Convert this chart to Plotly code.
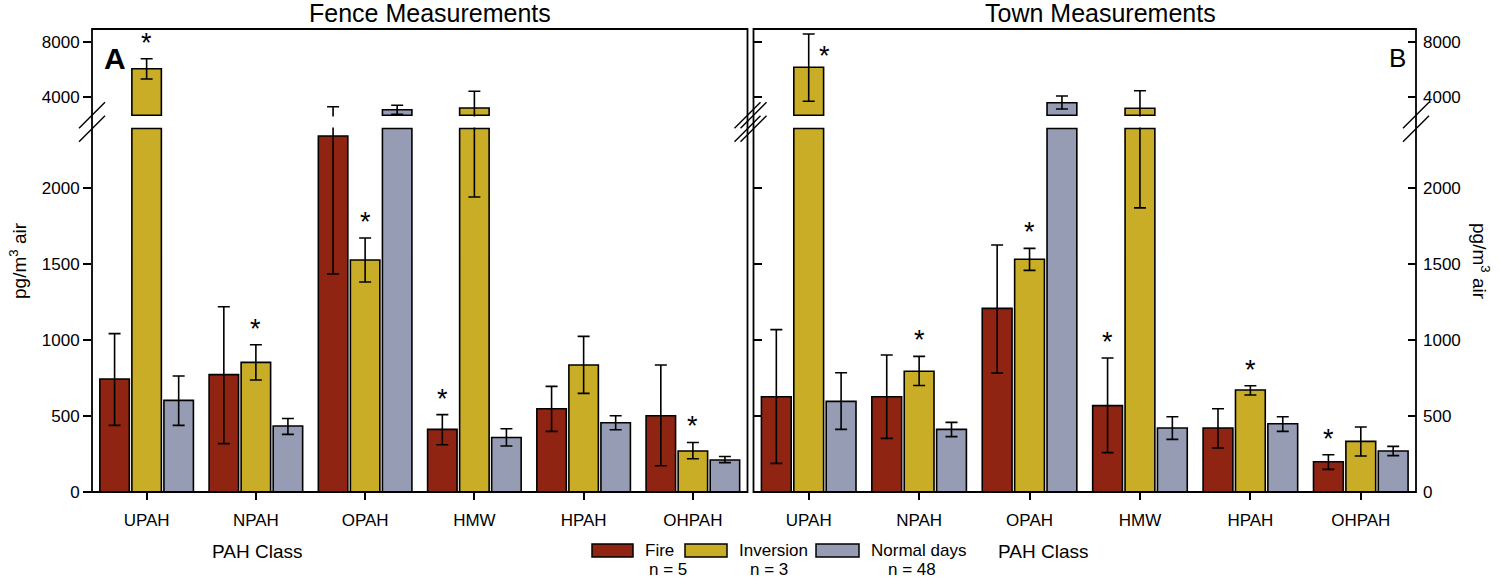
import plotly.graph_objects as go

# ---------------- data ----------------
categories = ["UPAH", "NPAH", "OPAH", "HMW", "HPAH", "OHPAH"]
series_names = ["Fire", "Inversion", "Normal days"]
series_counts = ["n = 5", "n = 3", "n = 48"]
series_colors = ["#8f2413", "#c9ad27", "#959cb4"]

# Fence measurements (pg/m3 air), error bars (+ / -)
fence_fire = [743, 772, 2342, 412, 548, 502]
fence_fire_ep = [299, 447, 974, 97, 147, 334]
fence_fire_em = [305, 454, 908, 101, 149, 329]
fence_inv = [6080, 853, 1526, 3222, 836, 270]
fence_inv_ep = [727, 116, 145, 1214, 188, 56]
fence_inv_em = [750, 116, 144, 1281, 187, 51]
fence_norm = [603, 434, 3098, 359, 456, 211]
fence_norm_ep = [160, 50, 320, 57, 46, 23]
fence_norm_em = [165, 55, 335, 56, 46, 18]

# Town measurements
town_fire = [627, 627, 1208, 568, 421, 199]
town_fire_ep = [441, 274, 417, 314, 127, 46]
town_fire_em = [439, 274, 425, 309, 132, 50]
town_inv = [6182, 794, 1531, 3200, 671, 333]
town_inv_ep = [2422, 98, 72, 1280, 28, 95]
town_inv_em = [2473, 93, 73, 1331, 33, 96]
town_norm = [596, 412, 3607, 421, 449, 270]
town_norm_ep = [189, 46, 487, 74, 46, 30]
town_norm_em = [184, 48, 458, 75, 50, 31]

# significance markers: (category, series index)
fence_stars = [("UPAH", 1), ("NPAH", 1), ("OPAH", 1), ("HMW", 0), ("OHPAH", 1)]
town_stars = [("UPAH", 1), ("NPAH", 1), ("OPAH", 1), ("HMW", 0), ("HPAH", 1), ("OHPAH", 0)]

low_ticks = [0, 500, 1000, 1500, 2000]
up_ticks = [4000, 8000]

# ---------------- geometry ----------------
W, H = 1500, 579
ML, MR, MT, MB = 92, 84, 29, 87
PW, PH = W - ML - MR, H - MT - MB
FONT = "Liberation Sans, Arial, sans-serif"


def fx(px):
    return (px - ML) / PW


def fy(py):
    return (H - MB - py) / PH


LOW_MAX, LOW_CAP = 2398, 2392
UP_MIN, UP_MAX, UP_BASE = 2603, 8967, 2691
low_dom = [0, fy(127.5)]
up_dom = [fy(116.5), 1]
BARGAP, BARGROUPGAP = 0.12, 0.08
slot = (1 - BARGAP) / 3

panels = [
    dict(xa="x", ylo="y", yup="y2",
         vals=[fence_fire, fence_inv, fence_norm],
         ep=[fence_fire_ep, fence_inv_ep, fence_norm_ep],
         em=[fence_fire_em, fence_inv_em, fence_norm_em],
         stars=fence_stars),
    dict(xa="x2", ylo="y3", yup="y4",
         vals=[town_fire, town_inv, town_norm],
         ep=[town_fire_ep, town_inv_ep, town_norm_ep],
         em=[town_fire_em, town_inv_em, town_norm_em],
         stars=town_stars),
]

fig = go.Figure()
line_style = dict(color="black", width=1.6)
annotations = []

for p in panels:
    # bars (segments cut at the axis break)
    for s in range(3):
        v = p["vals"][s]
        fig.add_trace(go.Bar(
            x=categories, y=[min(a, LOW_CAP) for a in v],
            marker=dict(color=series_colors[s], line=line_style),
            offsetgroup=str(s), xaxis=p["xa"], yaxis=p["ylo"],
            showlegend=False, hoverinfo="skip"))
        fig.add_trace(go.Bar(
            x=categories, y=[(a - UP_BASE) if a > LOW_CAP else None for a in v],
            base=UP_BASE,
            marker=dict(color=series_colors[s], line=line_style),
            offsetgroup=str(s), xaxis=p["xa"], yaxis=p["yup"],
            showlegend=False, hoverinfo="skip"))
    # error bars drawn on transparent full-height bars, clipped by each segment
    for s in range(3):
        for ya in (p["ylo"], p["yup"]):
            fig.add_trace(go.Bar(
                x=categories, y=p["vals"][s],
                marker=dict(color="rgba(0,0,0,0)", line=dict(width=0)),
                error_y=dict(type="data", symmetric=False,
                             array=p["ep"][s], arrayminus=p["em"][s],
                             color="black", thickness=1.6, width=6),
                offsetgroup=str(s), xaxis=p["xa"], yaxis=ya,
                showlegend=False, hoverinfo="skip"))
    # asterisks
    xref = p["xa"]
    for cat, s in p["stars"]:
        i = categories.index(cat)
        top = p["vals"][s][i] + p["ep"][s][i]
        xpos = i + (s - 1) * slot
        if top > LOW_MAX:
            yref = p["yup"]
        else:
            yref = p["ylo"]
        beside = yref == p["yup"] and (UP_MAX - top) * (55 / 4000) < 25
        annotations.append(dict(
            x=xpos, y=top, xref=xref, yref=yref, text="*", showarrow=False,
            font=dict(family=FONT, size=27, color="black"),
            xanchor="center", yanchor="middle",
            xshift=16 if beside else 0, yshift=-22 if beside else 16))

axis_common = dict(showgrid=False, zeroline=False, showline=False,
                   ticks="outside", tickcolor="black", tickwidth=1.6,
                   tickfont=dict(family=FONT, size=17, color="black"))

layout = dict(
    width=W, height=H, margin=dict(l=ML, r=MR, t=MT, b=MB),
    paper_bgcolor="white", plot_bgcolor="white",
    barmode="group", bargap=BARGAP, bargroupgap=BARGROUPGAP,
    showlegend=False, font=dict(family=FONT, color="black"),
    xaxis=dict(domain=[0, fx(747.5)], range=[-0.5, 5.5], anchor="y",
               ticklen=7, ticklabelstandoff=6, **axis_common),
    xaxis2=dict(domain=[fx(753.5), 1], range=[-0.5, 5.5], anchor="y3",
                ticklen=7, ticklabelstandoff=6, **axis_common),
    yaxis=dict(domain=low_dom, range=[0, LOW_MAX], tickvals=low_ticks,
               anchor="x", ticklen=8, **axis_common),
    yaxis2=dict(domain=up_dom, range=[UP_MIN, UP_MAX], tickvals=up_ticks,
                anchor="x", ticklen=8, **axis_common),
)
right_common = dict(axis_common)
right_common["ticks"] = "inside"
layout["yaxis3"] = dict(domain=low_dom, range=[0, LOW_MAX], tickvals=low_ticks,
                        anchor="x2", side="right", mirror="ticks", ticklen=8,
                        ticklabelstandoff=6, **right_common)
layout["yaxis4"] = dict(domain=up_dom, range=[UP_MIN, UP_MAX], tickvals=up_ticks,
                        anchor="x2", side="right", mirror="ticks", ticklen=8,
                        ticklabelstandoff=6, **right_common)
layout["yaxis5"] = dict(overlaying="y", range=[0, LOW_MAX], tickvals=low_ticks,
                        anchor="x", side="right", ticklen=8, showticklabels=False,
                        **right_common)
layout["yaxis6"] = dict(overlaying="y2", range=[UP_MIN, UP_MAX], tickvals=up_ticks,
                        anchor="x", side="right", ticklen=8, showticklabels=False,
                        **right_common)
fig.update_layout(**layout)

# ---------------- frames & break marks ----------------
shapes = []
for x0, x1 in [(92, 747.5), (753.5, 1416)]:
    shapes.append(dict(type="rect", xref="paper", yref="paper",
                       x0=fx(x0), x1=fx(x1), y0=0, y1=1,
                       line=dict(color="black", width=1.8), layer="above"))
for ex in [92, 747.5, 753.5, 1416]:
    for by in [115.3, 128.7]:
        shapes.append(dict(type="line", xref="paper", yref="paper",
                           x0=fx(ex - 13), y0=fy(by + 13), x1=fx(ex + 13), y1=fy(by - 13),
                           line=dict(color="black", width=1.5), layer="above"))

# ---------------- legend (manual) ----------------
legend_boxes = [(592, 633), (685, 727), (816, 859)]
legend_text_x = [643, 737, 869]
legend_n_x = [668, 769, 912]
for s in range(3):
    shapes.append(dict(type="rect", xref="paper", yref="paper",
                       x0=fx(legend_boxes[s][0]), x1=fx(legend_boxes[s][1]),
                       y0=fy(557), y1=fy(544),
                       fillcolor=series_colors[s], line=dict(color="black", width=1.5)))
    annotations.append(dict(x=fx(legend_text_x[s]), y=fy(550.5), xref="paper", yref="paper",
                            text=series_names[s], showarrow=False, xanchor="left",
                            yanchor="middle", font=dict(family=FONT, size=17)))
    annotations.append(dict(x=fx(legend_n_x[s]), y=fy(569), xref="paper", yref="paper",
                            text=series_counts[s], showarrow=False, xanchor="center",
                            yanchor="middle", font=dict(family=FONT, size=17)))

# ---------------- titles & labels ----------------
def ann(px, py, text, size, **kw):
    d = dict(x=fx(px), y=fy(py), xref="paper", yref="paper", text=text,
             showarrow=False, xanchor="center", yanchor="middle",
             font=dict(family=FONT, size=size, color="black"))
    d.update(kw)
    annotations.append(d)


ann(430, 13, "Fence Measurements", 25)
ann(1100, 13, "Town Measurements", 25)
ann(257, 551, "PAH Class", 19)
ann(1043, 551, "PAH Class", 19)
ann(18, 261, "pg/m<sup>3</sup> air", 19, textangle=-90)
ann(1481, 261, "pg/m<sup>3</sup> air", 19, textangle=90)
ann(115, 58, "<b>A</b>", 30)
ann(1397, 58, "B", 26)

fig.update_layout(shapes=shapes, annotations=annotations)

fig.write_html("out.html", config={"displayModeBar": False},
               post_script="document.body.style.margin='0';")
